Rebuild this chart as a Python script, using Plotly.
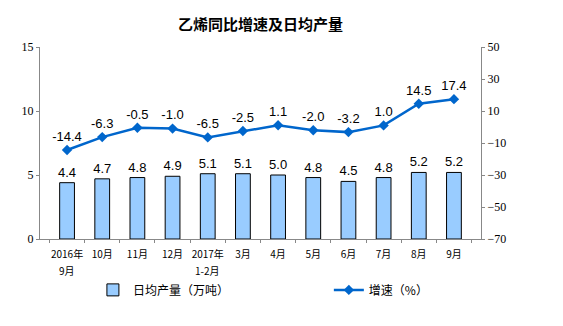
import plotly.graph_objects as go

categories = ["2016年", "10月", "11月", "12月", "2017年", "3月", "4月", "5月", "6月", "7月", "8月", "9月"]
category_second_line = ["9月", "", "", "", "1-2月", "", "", "", "", "", "", ""]
daily_output = [4.4, 4.7, 4.8, 4.9, 5.1, 5.1, 5.0, 4.8, 4.5, 4.8, 5.2, 5.2]
growth = [-14.4, -6.3, -0.5, -1.0, -6.5, -2.5, 1.1, -2.0, -3.2, 1.0, 14.5, 17.4]

cjk = "Noto Sans CJK SC"
fig = go.Figure()
fig.add_trace(go.Bar(
    x=categories, y=daily_output, name="日均产量（万吨）", legend="legend",
    marker=dict(color="#99CCFF", line=dict(color="black", width=1)),
    width=0.42,
    text=[f"{v:.1f}" for v in daily_output], textposition="outside", constraintext="none",
    textfont=dict(family="Liberation Sans, Arial", size=13, color="black"),
    cliponaxis=False,
))
fig.add_trace(go.Scatter(
    x=categories, y=growth, name="增速（%）", yaxis="y2", legend="legend2",
    mode="lines+markers+text",
    line=dict(color="#0066CC", width=2.5),
    marker=dict(symbol="diamond", size=8, color="#0066CC"),
    text=[f"{v:.1f}" for v in growth], textposition="top center",
    textfont=dict(family="Liberation Sans, Arial", size=13, color="black"),
    cliponaxis=False,
))
for cat, second in zip(categories, category_second_line):
    if second:
        fig.add_annotation(x=cat, xref="x", y=0, yref="paper", yanchor="top", yshift=-22,
                           text=second, showarrow=False,
                           font=dict(family=cjk, size=10, color="black"))

leg_common = dict(orientation="h", xanchor="left", y=-0.265, yanchor="middle",
                  font=dict(family=cjk, size=12, color="black"), bgcolor="rgba(0,0,0,0)")
fig.update_layout(
    width=563, height=326,
    margin=dict(l=40, r=82, t=47, b=87),
    paper_bgcolor="white", plot_bgcolor="white",
    title=dict(text="<b>乙烯同比增速及日均产量</b>", x=0.5, xref="paper", y=0.925, yanchor="middle",
               font=dict(family=cjk, size=15, color="black")),
    showlegend=True,
    legend=dict(x=0.12, **leg_common),
    legend2=dict(x=0.655, **leg_common),
    xaxis=dict(showline=True, linecolor="#888", linewidth=1, ticks="outside", tickson="boundaries",
               ticklen=3, tickcolor="#888", showgrid=False, ticklabelstandoff=6,
               tickfont=dict(family=cjk, size=10, color="black"), tickangle=0),
    yaxis=dict(range=[0, 15], tickmode="linear", tick0=0, dtick=5, showline=True, linecolor="#888", linewidth=1,
               ticks="outside", ticklen=3, tickcolor="#888", showgrid=False, zeroline=False,
               tickfont=dict(family="Liberation Serif, Times New Roman", size=12, color="black")),
    yaxis2=dict(range=[-70, 50], tickmode="linear", tick0=-70, dtick=20, overlaying="y", side="right",
                showline=True, linecolor="#888", linewidth=1, ticks="outside", ticklen=3, tickcolor="#888",
                showgrid=False, zeroline=False,
                tickfont=dict(family="Liberation Serif, Times New Roman", size=12, color="black")),
    bargap=0.5,
)
fig.write_html("out.html")
